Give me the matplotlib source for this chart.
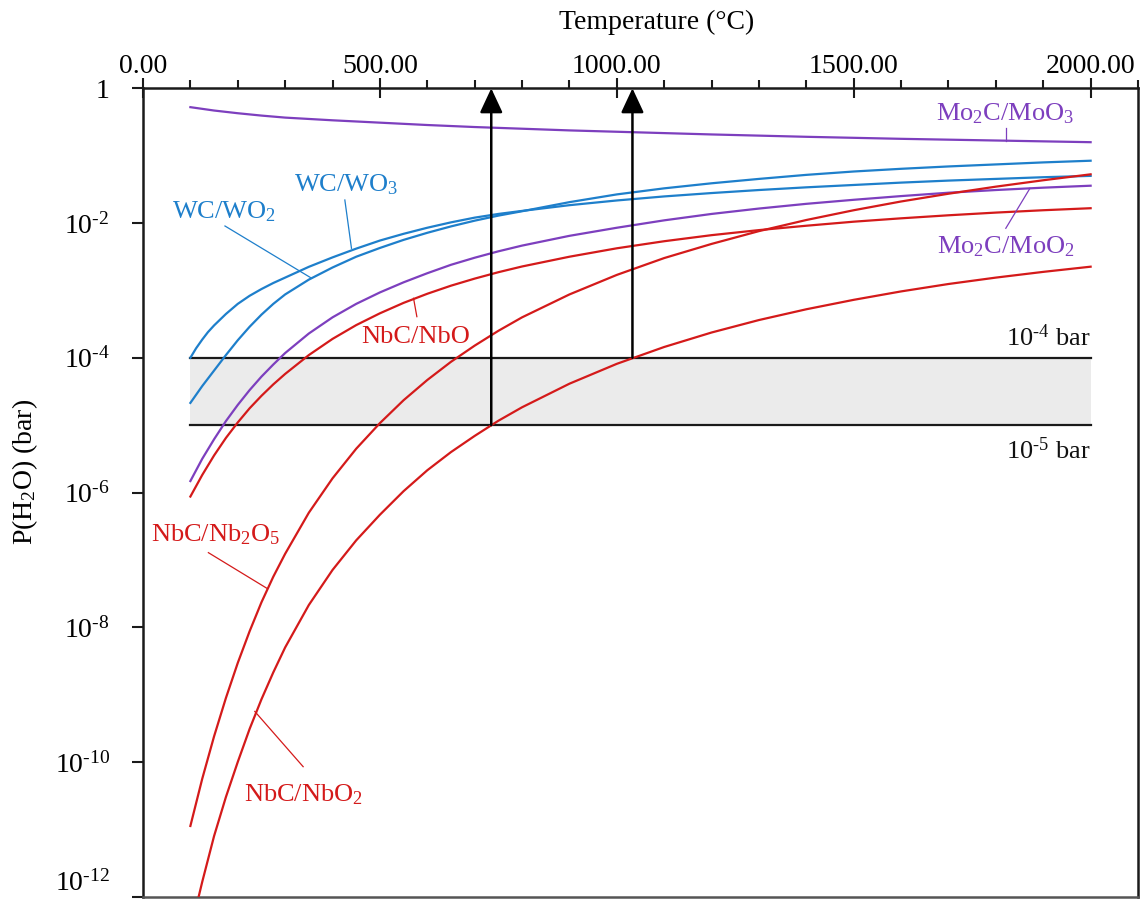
import numpy as np
import matplotlib
matplotlib.use("Agg")
import matplotlib.pyplot as plt
from matplotlib.ticker import FixedLocator, MultipleLocator, FixedFormatter

plt.rcParams['font.family'] = ['Liberation Serif', 'DejaVu Serif']
plt.rcParams['mathtext.fontset'] = 'custom'
plt.rcParams['mathtext.rm'] = 'Liberation Serif'
plt.rcParams['mathtext.it'] = 'Liberation Serif:italic'
plt.rcParams['mathtext.bf'] = 'Liberation Serif:bold'

# ---------------- data (temperature in degC, log10 of P(H2O) in bar) -------------
T_mo2c_moo3 = [100, 150, 200, 250, 300, 400, 500, 600, 700, 800, 900, 1000, 1200, 1400, 1600, 1800, 2000]
logp_mo2c_moo3 = [-0.28, -0.33, -0.37, -0.405, -0.435, -0.475, -0.51, -0.545, -0.575, -0.60, -0.625,
                  -0.645, -0.685, -0.72, -0.75, -0.775, -0.80]

T_wc_wo3 = [100, 112, 125, 137, 150, 175, 200, 225, 250, 275, 300, 350, 400, 450, 500, 550, 600,
            650, 700, 750, 800, 900, 1000, 1100, 1200, 1300, 1400, 1500, 1600, 1700, 1800, 1900, 2000]
logp_wc_wo3 = [-4.00, -3.86, -3.73, -3.62, -3.52, -3.35, -3.20, -3.08, -2.98, -2.89, -2.81, -2.65,
               -2.51, -2.38, -2.26, -2.16, -2.07, -1.99, -1.92, -1.865, -1.82, -1.735, -1.665,
               -1.605, -1.555, -1.51, -1.47, -1.435, -1.40, -1.37, -1.345, -1.32, -1.30]

T_wc_wo2 = [100, 125, 150, 175, 200, 225, 250, 275, 300, 350, 400, 450, 500, 550, 600, 650, 700,
            750, 800, 900, 1000, 1100, 1200, 1300, 1400, 1500, 1600, 1700, 1800, 1900, 2000]
logp_wc_wo2 = [-4.67, -4.42, -4.19, -3.96, -3.74, -3.54, -3.36, -3.20, -3.06, -2.84, -2.66, -2.50,
               -2.37, -2.25, -2.145, -2.05, -1.965, -1.89, -1.825, -1.69, -1.575, -1.485, -1.41,
               -1.345, -1.285, -1.235, -1.195, -1.16, -1.13, -1.10, -1.075]

T_mo2c_moo2 = [100, 125, 150, 175, 200, 225, 250, 275, 300, 350, 400, 450, 500, 550, 600, 650, 700,
               750, 800, 900, 1000, 1100, 1200, 1300, 1400, 1500, 1600, 1700, 1800, 1900, 2000]
logp_mo2c_moo2 = [-5.83, -5.50, -5.21, -4.94, -4.70, -4.48, -4.28, -4.10, -3.93, -3.64, -3.40,
                  -3.20, -3.03, -2.88, -2.745, -2.62, -2.515, -2.42, -2.335, -2.19, -2.07, -1.96,
                  -1.865, -1.785, -1.715, -1.655, -1.60, -1.55, -1.51, -1.475, -1.446]

T_nbc_nbo = [100, 125, 150, 175, 200, 225, 250, 275, 300, 350, 400, 450, 500, 550, 600, 650, 700,
             750, 800, 900, 1000, 1100, 1200, 1300, 1400, 1500, 1600, 1700, 1800, 1900, 2000]
logp_nbc_nbo = [-6.06, -5.74, -5.45, -5.19, -4.96, -4.75, -4.565, -4.395, -4.24, -3.96, -3.72,
                -3.515, -3.34, -3.185, -3.05, -2.93, -2.825, -2.73, -2.645, -2.50, -2.375, -2.27,
                -2.18, -2.105, -2.04, -1.98, -1.93, -1.885, -1.845, -1.81, -1.78]

T_nbc_nb2o5 = [100, 125, 150, 175, 200, 225, 250, 275, 300, 350, 400, 450, 500, 550, 600, 650, 700,
               750, 800, 900, 1000, 1100, 1200, 1300, 1400, 1500, 1600, 1700, 1800, 1900, 2000]
logp_nbc_nb2o5 = [-10.95, -10.25, -9.62, -9.05, -8.53, -8.06, -7.63, -7.25, -6.91, -6.30, -5.79,
                  -5.35, -4.97, -4.63, -4.33, -4.06, -3.82, -3.60, -3.40, -3.06, -2.77, -2.52,
                  -2.31, -2.12, -1.955, -1.81, -1.68, -1.565, -1.46, -1.365, -1.277]

T_nbc_nbo2 = [100, 125, 150, 175, 200, 225, 250, 275, 300, 350, 400, 450, 500, 550, 600, 650, 700,
              750, 800, 900, 1000, 1100, 1200, 1300, 1400, 1500, 1600, 1700, 1800, 1900, 2000]
logp_nbc_nbo2 = [-12.51, -11.78, -11.10, -10.52, -10.00, -9.51, -9.07, -8.67, -8.30, -7.67, -7.15,
                 -6.71, -6.33, -5.98, -5.67, -5.40, -5.16, -4.935, -4.735, -4.385, -4.09, -3.84,
                 -3.625, -3.44, -3.28, -3.14, -3.015, -2.905, -2.81, -2.725, -2.648]

band_T = [100, 2000]
band_low = 1e-5
band_high = 1e-4
arrow_T = [735, 1033]
arrow_from = [1e-5, 1e-4]

x_ticks = [0, 500, 1000, 1500, 2000]
x_tick_labels = ["0.00", "500.00", "1000.00", "1500.00", "2000.00"]
y_ticks = [1, 1e-2, 1e-4, 1e-6, 1e-8, 1e-10, 1e-12]
y_tick_labels = ["1", r"10$^{\text{-}2}$", r"10$^{\text{-}4}$", r"10$^{\text{-}6}$",
                 r"10$^{\text{-}8}$", r"10$^{\text{-}10}$", r"10$^{\text{-}12}$"]

BLUE = '#1E7FCB'
PURPLE = '#7D3FBE'
RED = '#D41A1A'

# ---------------- figure -------------
W, H = 1141, 899
fig = plt.figure(figsize=(W / 100, H / 100), dpi=100)
ax_l, ax_r, ax_t, ax_b = 143, 1138, 88.3, 896.7
ax = fig.add_axes([ax_l / W, 1 - ax_b / H, (ax_r - ax_l) / W, (ax_b - ax_t) / H])
ax.set_yscale('log')
ax.set_xlim(0, 2100)
ax.set_ylim(1e-12, 1)

# band
ax.fill_between(band_T, band_low, band_high, color='#EBEBEB', zorder=1, lw=0)
ax.plot(band_T, [band_high, band_high], color='#1a1a1a', lw=1.6, zorder=2)
ax.plot(band_T, [band_low, band_low], color='#1a1a1a', lw=1.6, zorder=2)

def p(logs):
    return 10.0 ** np.asarray(logs)

lw = 1.6
kw = dict(lw=lw, zorder=3, solid_joinstyle='round')
ax.plot(T_mo2c_moo3, p(logp_mo2c_moo3), color=PURPLE, **kw)
ax.plot(T_wc_wo3, p(logp_wc_wo3), color=BLUE, **kw)
ax.plot(T_wc_wo2, p(logp_wc_wo2), color=BLUE, **kw)
ax.plot(T_mo2c_moo2, p(logp_mo2c_moo2), color=PURPLE, **kw)
ax.plot(T_nbc_nbo, p(logp_nbc_nbo), color=RED, **kw)
ax.plot(T_nbc_nb2o5, p(logp_nbc_nb2o5), color=RED, **kw)
ax.plot(T_nbc_nbo2, p(logp_nbc_nbo2), color=RED, **kw)

# arrows
for xa, y0 in zip(arrow_T, arrow_from):
    ax.annotate('', xy=(xa, 1.0), xytext=(xa, y0),
                arrowprops=dict(arrowstyle='-|>,head_length=0.75,head_width=0.35',
                                color='black', lw=1.8, shrinkA=0, shrinkB=0,
                                mutation_scale=20), zorder=4)

# labels with leader lines
fs_in = 19
def label(text, tx, ty, line, color):
    ax.text(tx, 10 ** ty, text, color=color, fontsize=fs_in, ha='center', va='center', zorder=5)
    (x1, l1), (x2, l2) = line
    ax.plot([x1, x2], [10 ** l1, 10 ** l2], color=color, lw=0.9, zorder=5)

label('Mo$_2$C/MoO$_3$', 1820, -0.37, ((1821, -0.594), (1821, -0.778)), PURPLE)
label('Mo$_2$C/MoO$_2$', 1820, -2.35, ((1821, -2.078), (1872, -1.484)), PURPLE)
label('WC/WO$_3$', 428, -1.435, ((426, -1.658), (440, -2.375)), BLUE)
label('WC/WO$_2$', 171, -1.83, ((173, -2.044), (356, -2.82)), BLUE)
label('NbC/NbO', 576, -3.687, ((578, -3.39), (571, -3.117)), RED)
label('NbC/Nb$_2$O$_5$', 154, -6.63, ((138, -6.893), (261, -7.42)), RED)
label('NbC/NbO$_2$', 338, -10.49, ((338, -10.07), (236, -9.25)), RED)

ax.text(2000, 10 ** -3.70, r'10$^{\text{-}4}$ bar', fontsize=fs_in, ha='right', va='center', color='#111111')
ax.text(2000, 10 ** -5.375, r'10$^{\text{-}5}$ bar', fontsize=fs_in, ha='right', va='center', color='#111111')

# axes styling
for s in ax.spines.values():
    s.set_linewidth(1.8)
    s.set_color('#1a1a1a')
ax.spines['bottom'].set_color('#555555')

ax.xaxis.tick_top()
ax.xaxis.set_major_locator(FixedLocator(x_ticks))
ax.xaxis.set_major_formatter(FixedFormatter(x_tick_labels))
ax.xaxis.set_minor_locator(MultipleLocator(100))
ax.tick_params(axis='x', which='major', direction='inout', length=14, width=1.5,
               labelsize=20, pad=0, colors='#1a1a1a', labelcolor='black')
ax.tick_params(axis='x', which='minor', direction='out', length=6, width=1.5, colors='#1a1a1a')

ax.yaxis.set_major_locator(FixedLocator(y_ticks))
ax.yaxis.set_major_formatter(FixedFormatter(y_tick_labels))
ax.yaxis.set_minor_locator(FixedLocator([]))
ax.tick_params(axis='y', which='major', direction='out', length=8, width=1.5,
               labelsize=20, pad=16, colors='#1a1a1a', labelcolor='black')

fig.text(657 / W, 1 - 22 / H, 'Temperature (\u00b0C)', fontsize=20, ha='center', va='center')
fig.text(25 / W, 1 - 472 / H, 'P(H$_2$O) (bar)', fontsize=20, ha='center', va='center', rotation=90)

fig.canvas.draw()
ylabels = ax.get_yticklabels()
ylabels[-1].set_verticalalignment('bottom')

fig.savefig('out.png', dpi=100)
